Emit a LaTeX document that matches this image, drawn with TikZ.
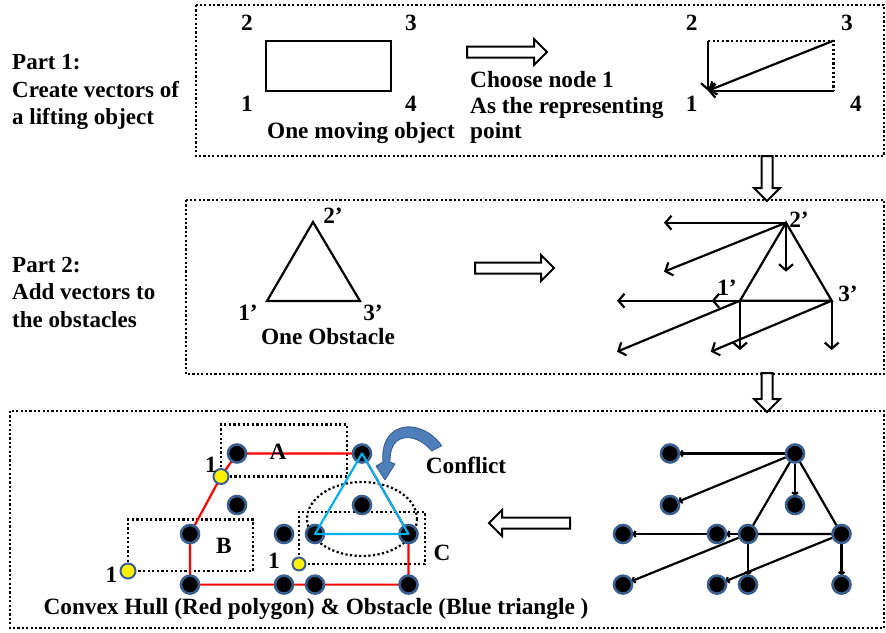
\documentclass[tikz,border=0pt]{standalone}
\usepackage{fontspec}
\setmainfont{Liberation Serif}
\usetikzlibrary{arrows.meta,backgrounds}
\definecolor{hullred}{HTML}{FF0000}
\definecolor{obsblue}{HTML}{00B0F0}
\definecolor{ringblue}{HTML}{3A5F8E}
\definecolor{bendfill}{HTML}{4F7FB8}
\definecolor{bendedge}{HTML}{34598A}

\begin{document}
\begin{tikzpicture}[x=1pt,y=-1pt,
  every node/.style={font=\bfseries\fontsize{23.3}{25.5}\selectfont, inner sep=0pt},
  partlabel/.style={anchor=west, align=left, font=\bfseries\fontsize{23}{27.5}\selectfont},
  frame/.style={line width=2.4pt, dash pattern=on 2.2pt off 2.2pt},
  zone/.style={line width=2.2pt, dash pattern=on 2.2pt off 2.4pt},
  vec/.style={line width=2.2pt, -{Straight Barb[length=6pt,width=14pt]}},
  edge/.style={line width=2.2pt},
  fat/.style={draw, line width=2pt, fill=white, line join=miter},
  dot/.style={circle, fill=black, draw=ringblue, line width=2.6pt, minimum size=18pt},
  ydot/.style={circle, fill=yellow, draw=ringblue, line width=2pt, minimum size=#1},
  ydot/.default=15pt,
  gvec/.style={line width=2.2pt, -{Straight Barb[length=2pt,width=6pt]}, shorten >=-1pt},
  hull/.style={draw=hullred, line width=2.2pt},
  obst/.style={draw=obsblue, line width=2.2pt, line join=round},
  pics/fatarrow/.style={code={
    \draw[fat] (0,-5.5) -- (#1-13,-5.5) -- (#1-13,-13) -- (#1,0)
               -- (#1-13,13) -- (#1-13,5.5) -- (0,5.5) -- cycle;}}
]
\useasboundingbox (0,0) rectangle (886,632);

% ---------- frames ----------
\draw[frame] (196,5) rectangle (884,156);
\draw[frame] (186,200) rectangle (884,374);
\draw[frame] (10,411) rectangle (884,628);

% ---------- left-hand titles ----------
\node[partlabel] (p1) at (12,92) {Part 1:\\Create vectors of\\a lifting object};
\node[partlabel] (p2) at (12,292) {Part 2:\\Add vectors to\\the obstacles};

% ---------- part 1 ----------
\draw[line width=2.2pt] (266,40.7) rectangle (390.7,90.7);
\node (l2) at (247,23) {2};
\node (l3) at (411,23) {3};
\node (l1) at (247,104) {1};
\node (l4) at (411,104) {4};
\node (mov) at (361,133) {One moving object};

\pic at (467,52) {fatarrow=80};
\node[anchor=west, align=left] (choose) at (470,107.5) {Choose node 1\\As the representing\\point};

\coordinate (c2) at (708,40.7);
\coordinate (c3) at (833.5,40.7);
\coordinate (c1) at (708,90.7);
\coordinate (c4) at (833.5,90.7);
\draw[zone] (c2) -- (c3) -- (c4);
\draw[vec] (c2) -- (c1);
\draw[vec] (c3) -- (c1);
\draw[vec] (c4) -- (c1);
\node (r2) at (691.6,23) {2};
\node (r3) at (847,23) {3};
\node (r1) at (691.6,104) {1};
\node (r4) at (856,104) {4};

\pic[rotate=-90] at (767,156) {fatarrow=45};

% ---------- part 2 ----------
\coordinate (o1) at (267,301);
\coordinate (o2) at (313,222);
\coordinate (o3) at (360,301);
\draw[edge, line join=miter] (o1) -- (o2) -- (o3) -- cycle;
\node (ol2) at (333,216) {2’};
\node (ol1) at (248,312.5) {1’};
\node (ol3) at (373,312.5) {3’};
\node (obs) at (328,336.5) {One Obstacle};

\pic at (475,268) {fatarrow=79};

\coordinate (v2) at (786,222.7);
\coordinate (v1) at (740,300.7);
\coordinate (v3) at (831.7,300.7);
\coordinate (v2h) at (664,222.7);
\coordinate (v2d) at (664,271.7);
\coordinate (v2v) at (786,271.7);
\coordinate (v1h) at (617,300.7);
\coordinate (v3h) at (711.7,300.7);
\coordinate (v1v) at (740,350);
\coordinate (v1d) at (617,351.7);
\coordinate (v3v) at (831.7,350);
\coordinate (v3d) at (710.7,351.7);
\draw[edge] (v1) -- (v2) -- (v3) -- cycle;
\draw[vec] (v2) -- (v2h);
\draw[vec] (v2) -- (v2d);
\draw[vec] (v2) -- (v2v);
\draw[vec] (v1) -- (v1h);
\draw[vec] (v3) -- (v3h);
\draw[vec] (v1) -- (v1v);
\draw[vec] (v1) -- (v1d);
\draw[vec] (v3) -- (v3v);
\draw[vec] (v3) -- (v3d);
\node (vl2) at (799,220) {2’};
\node (vl1) at (727,287.5) {1’};
\node (vl3) at (848,294) {3’};

\pic[rotate=-90] at (767,373) {fatarrow=39};

% ---------- part 3: vector graph ----------
\node[dot] (g2)  at (795,453.5) {};
\node[dot] (g2h) at (670,453.5) {};
\node[dot] (g2d) at (670,505) {};
\node[dot] (g2v) at (795,505) {};
\node[dot] (g1)  at (748,534) {};
\node[dot] (g3)  at (841.5,534) {};
\node[dot] (g1h) at (623,534) {};
\node[dot] (g3h) at (717,534) {};
\node[dot] (g1v) at (748,584.6) {};
\node[dot] (g1d) at (623,584.6) {};
\node[dot] (g3v) at (841.5,584.6) {};
\node[dot] (g3d) at (717,584.6) {};
\begin{scope}[on background layer]
  \draw[edge] (g1.center) -- (g2.center) -- (g3.center) -- cycle;
  \draw[gvec] (g2) -- (g2h);
  \draw[gvec] (g2) -- (g2d);
  \draw[gvec] (g2) -- (g2v);
  \draw[gvec] (g1) -- (g1h);
  \draw[gvec] (g3) -- (g3h);
  \draw[gvec] (g1) -- (g1v);
  \draw[gvec] (g1) -- (g1d);
  \draw[gvec] (g3) -- (g3v);
  \draw[gvec] (g3) -- (g3d);
\end{scope}

\pic[rotate=180] at (570,523) {fatarrow=81};

% ---------- part 3: convex hull and obstacle ----------
\node[dot] (h2)  at (362,453.5) {};
\node[dot] (h2h) at (237,453.5) {};
\node[dot] (h2d) at (237,505) {};
\node[dot] (h2v) at (362,505) {};
\node[dot] (h1)  at (315,534) {};
\node[dot] (h3)  at (408.5,534) {};
\node[dot] (h1h) at (190,534) {};
\node[dot] (h3h) at (284,534) {};
\node[dot] (h1v) at (315,584.6) {};
\node[dot] (h1d) at (190,584.6) {};
\node[dot] (h3v) at (408.5,584.6) {};
\node[dot] (h3d) at (284,584.6) {};
\node[ydot] (yA) at (221,476.5) {};
\node[ydot] (yB) at (128,571) {};
\node[ydot=13pt] (yC) at (299,564) {};
\begin{scope}[on background layer]
  \draw[zone] (yA.center) rectangle (347,424.5);
  \draw[zone] (yB.center) rectangle (253,519.5);
  \draw[zone] (yC.center) rectangle (425,512);
  \draw[zone] (362,519) ellipse [x radius=55, y radius=37];
  \draw[hull] (h2h.center) -- (h2.center) -- (h3.center) -- (h3v.center)
              -- (h1d.center) -- (h1h.center) -- (yA.center) -- cycle;
\end{scope}
\draw[obst] (h2.center) -- (h1.center) -- (h3.center) -- cycle;

\node (tA) at (278,452) {A};
\node (tB) at (224,546) {B};
\node (tC) at (442,553) {C};
\node (n1a) at (211,465) {1};
\node (n1b) at (111.5,574.5) {1};
\node (n1c) at (274,561) {1};

% curved "conflict" arrow
\filldraw[fill=bendfill, draw=bendedge, line width=0.8pt, line join=round]
  (441.7,445.7) .. controls (428,426) and (402,420) .. (389,436)
  .. controls (383,444) and (382,454) .. (383,462)
  -- (376,466) -- (385,480) -- (395,464) -- (390,462)
  .. controls (390,452) and (392,445) .. (397,441)
  .. controls (406,434) and (421,438) .. (431.7,451) -- cycle;
\node (conf) at (466,465) {Conflict};

\node (cap) at (316,609) {Convex Hull (Red polygon) \& Obstacle (Blue triangle )};
\end{tikzpicture}
\end{document}
